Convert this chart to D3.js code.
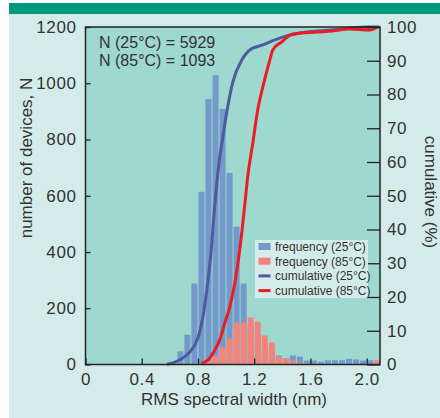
<!DOCTYPE html>
<html>
<head>
<meta charset="utf-8">
<script src="https://cdn.jsdelivr.net/npm/d3@7"></script>
<style>
  body { margin: 0; background: #fff; }
</style>
</head>
<body>
<svg id="chart" width="440" height="418"></svg>
<script>
// histogram bins (left edge, nm), 0.05 nm wide
const binStart = [0.60, 0.65, 0.70, 0.75, 0.80, 0.85, 0.90, 0.95, 1.00, 1.05,
                  1.10, 1.15, 1.20, 1.25, 1.30, 1.35, 1.40, 1.45, 1.50, 1.55,
                  1.60, 1.65, 1.70, 1.75, 1.80, 1.85, 1.90, 1.95, 2.00, 2.05];
const binWidth = 0.05;
const freq25 = [8, 47, 106, 288, 614, 944, 1029, 909, 681, 490,
                288, 140, 100, 60, 45, 32, 22, 32, 28, 14,
                14, 10, 15, 15, 15, 20, 18, 14, 15, 0];
const freq85 = [0, 0, 0, 0, 0, 12, 30, 62, 92, 149,
                149, 167, 152, 103, 78, 28, 21, 14, 6, 4,
                3, 0, 0, 0, 0, 0, 0, 0, 0, 15];

// cumulative curves (%)
const cumX25 = [0.579, 0.636, 0.692, 0.742, 0.778, 0.806, 0.835, 0.863, 0.891, 0.920,
                0.948, 0.977, 1.005, 1.048, 1.112, 1.168, 1.261, 1.381, 1.523, 1.758, 1.999, 2.09];
const cum25 = [0.1, 0.7, 1.9, 3.7, 5.8, 8.7, 14.1, 22.1, 32.4, 47.3,
               59.1, 67.4, 74.8, 83.7, 90.2, 93.2, 94.7, 96.7, 98.2, 99.1, 100, 100];
const cumX85 = [0.827, 0.870, 0.920, 0.955, 0.991, 1.026, 1.062, 1.097, 1.133, 1.154,
                1.190, 1.225, 1.261, 1.311, 1.332, 1.396, 1.474, 1.645, 1.758, 1.879, 2.021, 2.077];
const cum85 = [0.4, 1.3, 4.3, 7.3, 12.3, 17.0, 24.1, 33.9, 47.3, 55.6,
               65.6, 75.4, 82.2, 90.2, 93.2, 95.6, 97.9, 98.5, 98.8, 99.4, 99.1, 100];

const xTicks = [0, 0.4, 0.8, 1.2, 1.6, 2.0];
const yTicks = [0, 200, 400, 600, 800, 1000, 1200];
const cumTicks = [0, 10, 20, 30, 40, 50, 60, 70, 80, 90, 100];

const legendItems = [
  {label: 'frequency (25\u00b0C)', type: 'bar', color: '#7499cb'},
  {label: 'frequency (85\u00b0C)', type: 'bar', color: '#f48479'},
  {label: 'cumulative (25\u00b0C)', type: 'line', color: '#4d5a9e'},
  {label: 'cumulative (85\u00b0C)', type: 'line', color: '#ec1c24'}
];

const font = '"Liberation Sans", Arial, sans-serif';
const plot = {left: 85.5, right: 380, top: 27, bottom: 364.5};

const svg = d3.select('#chart');

// page background and top band
svg.append('rect').attr('x', 9).attr('y', 3).attr('width', 431).attr('height', 415).attr('fill', '#d4ece9');
svg.append('rect').attr('x', 9).attr('y', 3).attr('width', 431).attr('height', 11).attr('fill', '#00997f');

const x = d3.scaleLinear().domain([0, 2.095]).range([plot.left, plot.right]);
const y = d3.scaleLinear().domain([0, 1200]).range([plot.bottom, plot.top]);
const yCum = d3.scaleLinear().domain([0, 100]).range([plot.bottom, plot.top]);

svg.append('rect')
    .attr('x', plot.left).attr('y', plot.top)
    .attr('width', plot.right - plot.left).attr('height', plot.bottom - plot.top)
    .attr('fill', '#9ed8cf');

svg.append('clipPath').attr('id', 'clip')
  .append('rect')
    .attr('x', plot.left).attr('y', plot.top)
    .attr('width', plot.right - plot.left).attr('height', plot.bottom - plot.top);

const bars = svg.append('g').attr('clip-path', 'url(#clip)');

function drawBars(values, color) {
  bars.append('g').selectAll('rect')
    .data(binStart.map((b, i) => ({b: b, v: values[i]})).filter(d => d.v > 0))
    .enter().append('rect')
      .attr('x', d => x(d.b) + 0.5)
      .attr('width', d => x(d.b + binWidth) - x(d.b) - 1)
      .attr('y', d => y(d.v))
      .attr('height', d => y(0) - y(d.v))
      .attr('fill', color);
}
drawBars(freq25, legendItems[0].color);
drawBars(freq85, legendItems[1].color);

const line = d3.line().curve(d3.curveMonotoneX)
    .x(d => x(d[0])).y(d => yCum(d[1]));

svg.append('path')
    .datum(cumX25.map((v, i) => [v, cum25[i]]))
    .attr('d', line).attr('fill', 'none')
    .attr('stroke', legendItems[2].color).attr('stroke-width', 3);
svg.append('path')
    .datum(cumX85.map((v, i) => [v, cum85[i]]))
    .attr('d', line).attr('fill', 'none')
    .attr('stroke', legendItems[3].color).attr('stroke-width', 3);

// axes with inward ticks
const axisBottom = svg.append('g')
    .attr('transform', 'translate(0,' + plot.bottom + ')')
    .call(d3.axisBottom(x).tickValues(xTicks).tickSize(-6).tickPadding(8)
      .tickFormat(d => d === 0 ? '0' : d3.format('.1f')(d)));
const axisLeft = svg.append('g')
    .attr('transform', 'translate(' + plot.left + ',0)')
    .call(d3.axisLeft(y).tickValues(yTicks).tickSize(-5).tickPadding(9).tickFormat(d3.format('d')));
const axisRight = svg.append('g')
    .attr('transform', 'translate(' + plot.right + ',0)')
    .call(d3.axisRight(yCum).tickValues(cumTicks).tickSize(-13).tickPadding(7));

[axisBottom, axisLeft, axisRight].forEach(a => {
  a.attr('font-family', font);
  a.select('.domain').remove();
  a.selectAll('.tick line').attr('stroke', '#222').attr('stroke-width', 1.3);
  a.selectAll('.tick text').attr('font-size', 17).attr('fill', '#333')
      .style('letter-spacing', '0.6px');
});

// frame
svg.append('rect')
    .attr('x', plot.left).attr('y', plot.top)
    .attr('width', plot.right - plot.left).attr('height', plot.bottom - plot.top)
    .attr('fill', 'none').attr('stroke', '#222').attr('stroke-width', 1.5);

const titles = svg.append('g').attr('font-family', font).attr('fill', '#333');

// axis titles
titles.append('text')
    .attr('x', 234).attr('y', 405).attr('text-anchor', 'middle')
    .attr('font-size', 17).text('RMS spectral width (nm)');
titles.append('text')
    .attr('transform', 'translate(32,158) rotate(-90)').attr('text-anchor', 'middle')
    .attr('font-size', 17).text('number of devices, N');
titles.append('text')
    .attr('transform', 'translate(425,192) rotate(90)').attr('text-anchor', 'middle')
    .attr('font-size', 17).text('cumulative (%)');

// sample sizes
titles.append('text').attr('x', 99).attr('y', 48).attr('font-size', 16).text('N (25\u00b0C) = 5929');
titles.append('text').attr('x', 99).attr('y', 65.5).attr('font-size', 16).text('N (85\u00b0C) = 1093');

// legend
const legend = svg.append('g').attr('transform', 'translate(255,240)').attr('font-family', font);
legend.append('rect').attr('width', 113).attr('height', 58).attr('fill', '#d4ece9');
const rows = legend.selectAll('g.row').data(legendItems).enter().append('g')
    .attr('class', 'row')
    .attr('transform', (d, i) => 'translate(0,' + (6.5 + i * 14.7) + ')');
rows.filter(d => d.type === 'bar').append('rect')
    .attr('x', 3.5).attr('y', -3.5).attr('width', 12).attr('height', 7).attr('fill', d => d.color);
rows.filter(d => d.type === 'line').append('line')
    .attr('x1', 3.5).attr('x2', 15.5).attr('stroke', d => d.color).attr('stroke-width', 3);
rows.append('text').attr('x', 20).attr('y', 4.3).attr('font-size', 12).attr('fill', '#333').text(d => d.label);
</script>
</body>
</html>
